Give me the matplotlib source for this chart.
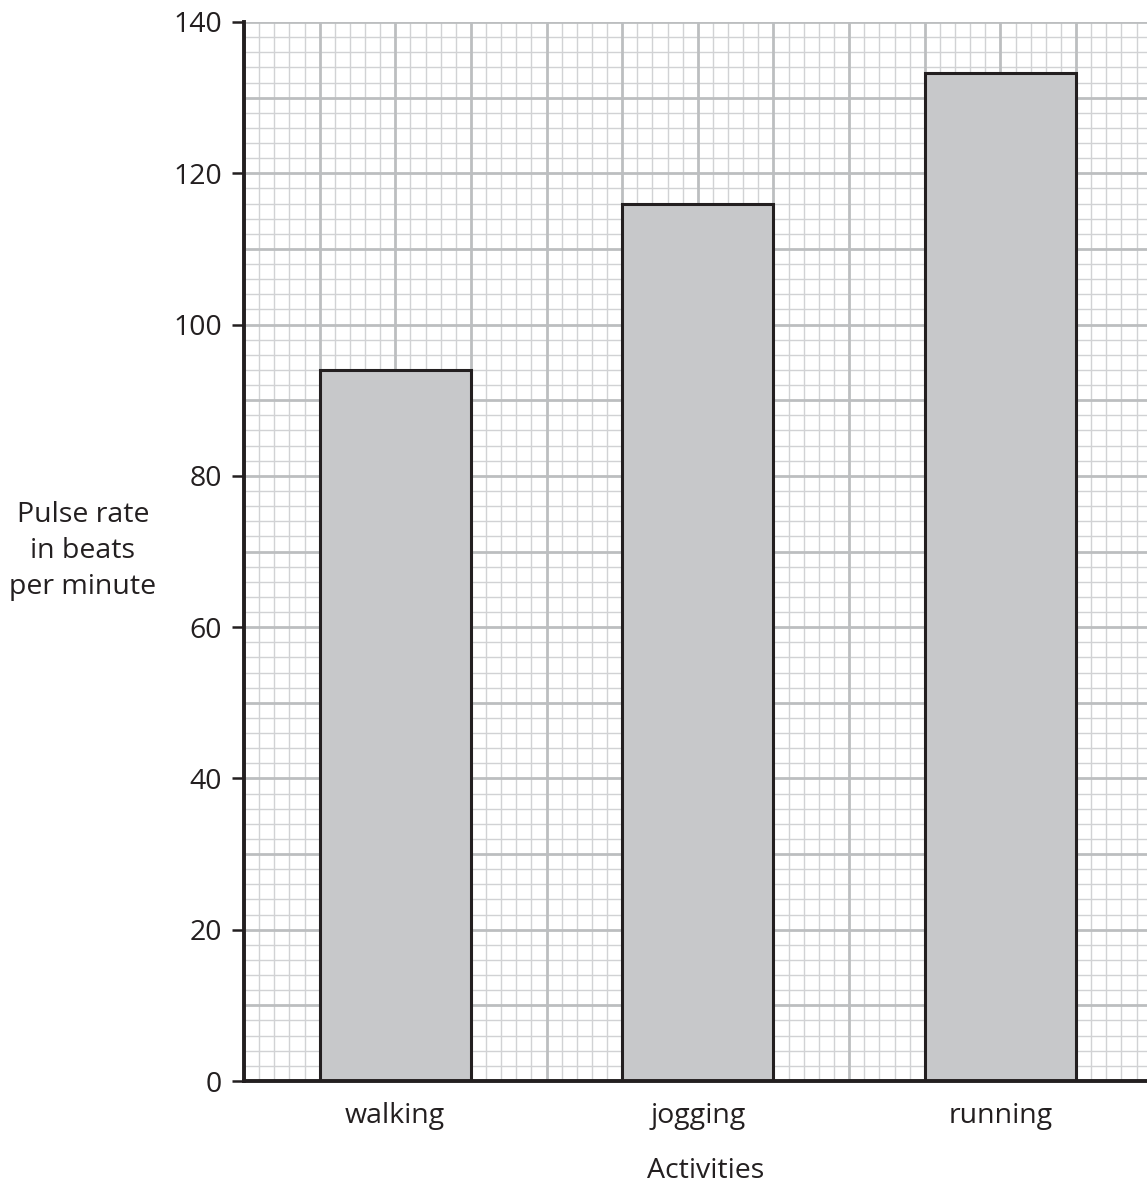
import matplotlib
matplotlib.use("Agg")
import matplotlib.pyplot as plt
import numpy as np

activities = ["walking", "jogging", "running"]
pulse = [94, 116, 133.3]
y_ticks = [0, 20, 40, 60, 80, 100, 120, 140]

plt.rcParams['font.family'] = ['Open Sans', 'DejaVu Sans']

fig = plt.figure(figsize=(11.47, 11.87), dpi=100)
ax = fig.add_axes([244/1147, 1 - 1081/1187, 1 - 244/1147, (1081 - 22)/1187])

xmax = (1147 - 244) / 7.564
centers = [20, 60, 100]
ax.bar(centers, pulse, width=20, color="#c7c8ca", edgecolor="#231f20",
       linewidth=2.2, zorder=3)

ax.set_xlim(0, xmax)
ax.set_ylim(0, 140)

# grid
for v in np.arange(0, xmax + 0.01, 2):
    major = (round(v) % 10 == 0)
    ax.axvline(v, color="#bcbec0" if major else "#d1d2d4",
               lw=2.0 if major else 1.0, zorder=1 if major else 0.5)
for v in np.arange(0, 140.01, 2):
    major = (round(v) % 10 == 0)
    ax.axhline(v, color="#bcbec0" if major else "#d1d2d4",
               lw=2.0 if major else 1.0, zorder=1 if major else 0.5)

fs = 20.5
ax.set_yticks(y_ticks)
ax.set_yticklabels([str(t) for t in y_ticks], fontsize=fs)
ax.set_xticks(centers)
ax.set_xticklabels(activities, fontsize=fs)
ax.tick_params(axis='x', length=0, pad=15, colors="#231f20")
ax.tick_params(axis='y', length=9, width=1.8, direction='out', pad=7, colors="#231f20")

for s in ["top", "right"]:
    ax.spines[s].set_visible(False)
for s in ["left", "bottom"]:
    ax.spines[s].set_color("#231f20")
    ax.spines[s].set_linewidth(2.8)
    ax.spines[s].set_zorder(5)

fig.text(83/1147, 1 - 551/1187, "Pulse rate\nin beats\nper minute", fontsize=fs,
         ha="center", va="center", color="#231f20", linespacing=1.38)
fig.text(706/1147, 1 - 1171/1187, "Activities", fontsize=fs,
         ha="center", va="center", color="#231f20")

fig.savefig("out.png", dpi=100)
